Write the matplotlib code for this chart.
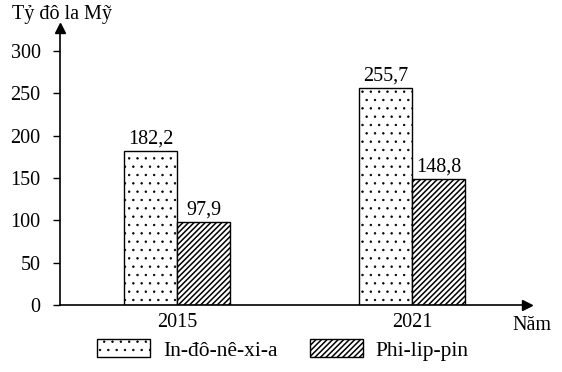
import matplotlib.pyplot as plt
import numpy as np

plt.rcParams['font.family'] = ['Liberation Serif', 'DejaVu Serif']
plt.rcParams['hatch.linewidth'] = 1.1

years = ["2015", "2021"]
indonesia = [182.2, 255.7]
philippines = [97.9, 148.8]
series_names = ["In-đô-nê-xi-a", "Phi-lip-pin"]
yticks = [0, 50, 100, 150, 200, 250, 300]

fs = 14.5

fig = plt.figure(figsize=(5.62, 3.72), dpi=100)
ax = fig.add_axes([60 / 562, 67 / 372, 467 / 562, 277 / 372])

x = np.arange(len(years))
w = 0.225
b1 = ax.bar(x - w / 2, indonesia, w, color="white", edgecolor="black",
            hatch="..", linewidth=1.0)
b2 = ax.bar(x + w / 2, philippines, w, color="white", edgecolor="black",
            hatch="//////", linewidth=1.0)
# thinner dots for the dotted series
for r in b1:
    if hasattr(r, "set_hatch_linewidth"):
        r.set_hatch_linewidth(0.5)

for bars, vals in [(b1, indonesia), (b2, philippines)]:
    for r, v in zip(bars, vals):
        ax.text(r.get_x() + r.get_width() / 2, v + 3, f"{v:.1f}".replace(".", ","),
                ha="center", va="bottom", fontsize=fs)

ax.set_xlim(-0.498, 1.489)
ax.set_ylim(0, 327)
ax.set_yticks(yticks)
ax.set_xticks(x)
ax.set_xticklabels(years)
ax.tick_params(axis="x", length=0, pad=6, labelsize=fs)
ax.tick_params(axis="y", length=5, width=1, pad=9, labelsize=fs)
for s in ["top", "right"]:
    ax.spines[s].set_visible(False)
ax.spines["left"].set_linewidth(1.2)
ax.spines["bottom"].set_linewidth(1.2)

# arrow heads on axes
ax.plot(1, 0, ">k", ms=7, transform=ax.transAxes, clip_on=False)
ax.plot(0, 1, "^k", ms=7, transform=ax.transAxes, clip_on=False)

fig.text(12 / 562, 1 - 14 / 372, "Tỷ đô la Mỹ", fontsize=fs, va="center", ha="left")
fig.text(532 / 562, 1 - 326 / 372, "Năm", fontsize=fs, va="center", ha="center")

leg = fig.legend([b1, b2], series_names, loc="center", bbox_to_anchor=(283 / 562, 1 - 350 / 372),
                 ncol=2, frameon=False, fontsize=15.5, handlelength=2.45, handleheight=0.85,
                 columnspacing=1.5, handletextpad=0.6)
h = leg.legend_handles[0]
if hasattr(h, "set_hatch_linewidth"):
    h.set_hatch_linewidth(0.5)

fig.savefig("out.png", dpi=100)
